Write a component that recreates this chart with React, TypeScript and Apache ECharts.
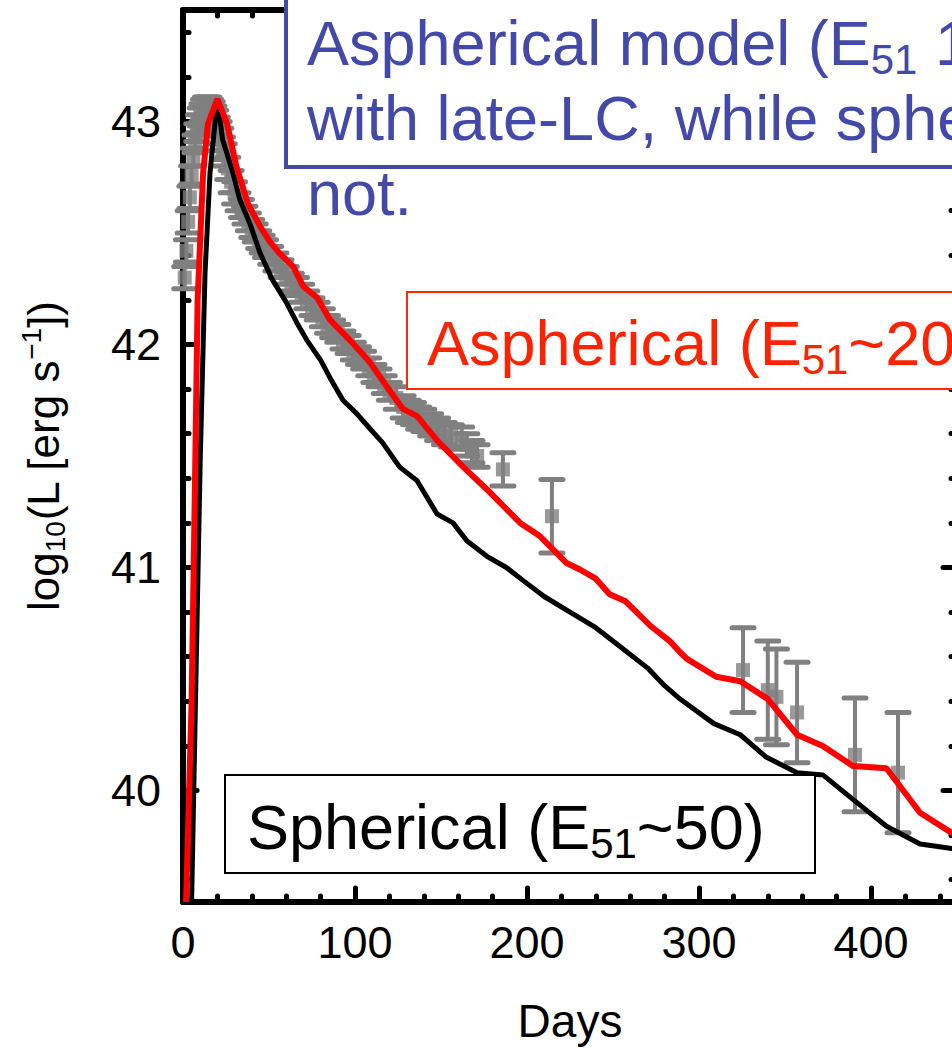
import React, { useEffect, useRef } from 'react';
import * as echarts from 'echarts';

const FONT = '"Liberation Sans", Arial, Helvetica, sans-serif';
const BLUE = '#4349A8';
const RED_TXT = '#FF2200';
const GRAY = '#808080';

// axis ranges / ticks
const xMin = 0;
const xMax = 450;
const xStep = 100;
const yMin = 39.5;
const yMax = 43.5;

// Spherical model (E51 ~ 50), black curve
const sphDays = [5, 7.5, 10, 12.8, 15.7, 20, 23, 29, 33, 39, 44.8, 52, 60, 66, 72, 80, 85.5, 93, 101, 109, 116, 126, 136, 147.7, 157, 165, 176.7, 188, 198, 210, 225, 240, 255, 270, 280, 289, 308.7, 324, 339, 357, 372, 389.5, 409, 428.5, 447, 450];
const sphLum = [39.5, 40.5, 41.48, 42.32, 42.77, 43.1, 42.92, 42.77, 42.65, 42.54, 42.41, 42.29, 42.19, 42.1, 42.02, 41.93, 41.85, 41.75, 41.69, 41.62, 41.56, 41.45, 41.39, 41.24, 41.2, 41.12, 41.05, 41.0, 40.94, 40.87, 40.8, 40.73, 40.64, 40.55, 40.47, 40.41, 40.3, 40.25, 40.15, 40.08, 40.07, 39.96, 39.84, 39.76, 39.74, 39.73];

// Aspherical model (E51 ~ 20), red curve
const aspDays = [1.8, 5, 7, 8.5, 11.7, 14.5, 20, 25.6, 31, 37.8, 44.8, 50.6, 56, 64, 70, 78, 85.5, 97, 108.7, 118.6, 128, 136, 147.7, 163, 176.7, 196, 207.6, 223, 231, 240, 248, 257, 271.5, 283, 289, 293, 310, 324, 340, 357, 372, 389.5, 409, 428.5, 447, 450];
const aspLum = [39.5, 40.4, 41.4, 42.2, 42.77, 42.99, 43.1, 42.99, 42.8, 42.63, 42.53, 42.46, 42.41, 42.35, 42.26, 42.21, 42.11, 42.02, 41.92, 41.81, 41.71, 41.68, 41.57, 41.45, 41.35, 41.2, 41.14, 41.02, 40.99, 40.95, 40.88, 40.85, 40.74, 40.67, 40.62, 40.59, 40.51, 40.49, 40.41, 40.25, 40.2, 40.11, 40.1, 39.9, 39.81, 39.8];

// Observed bolometric light curve (gray points with error bars)
const obsDays = [1, 2, 3, 4, 5, 6, 7, 8, 9, 10, 11, 12, 13, 14, 15, 16, 17, 18, 19, 20, 21, 22, 23, 24, 26, 28, 30, 32, 34, 36, 38, 40, 42, 44, 46, 48, 51, 54, 57, 60, 63, 66, 69, 72, 75, 78, 81, 84, 87, 90, 93, 96, 99, 102, 105, 108, 111, 114, 117, 120, 124, 128, 131, 134, 137, 140, 144, 148, 152, 156, 162, 165, 168, 171, 186, 214.5, 325.6, 340, 345, 357, 390.7, 415.7];
const obsLum = [42.3, 42.42, 42.55, 42.66, 42.76, 42.84, 42.9, 42.95, 42.99, 43.02, 43.04, 43.06, 43.07, 43.07, 43.07, 43.06, 43.05, 43.03, 43.01, 42.98, 42.95, 42.92, 42.88, 42.85, 42.79, 42.73, 42.68, 42.64, 42.61, 42.58, 42.55, 42.52, 42.5, 42.47, 42.45, 42.43, 42.4, 42.37, 42.34, 42.31, 42.28, 42.26, 42.23, 42.2, 42.17, 42.15, 42.12, 42.09, 42.07, 42.05, 42.02, 42.0, 41.97, 41.95, 41.93, 41.9, 41.87, 41.85, 41.82, 41.79, 41.76, 41.72, 41.7, 41.69, 41.67, 41.66, 41.64, 41.62, 41.6, 41.59, 41.58, 41.55, 41.52, 41.5, 41.44, 41.23, 40.54, 40.45, 40.42, 40.35, 40.16, 40.08];
const obsErr = [0.05, 0.05, 0.05, 0.05, 0.04, 0.04, 0.04, 0.04, 0.04, 0.04, 0.04, 0.04, 0.04, 0.04, 0.04, 0.04, 0.04, 0.04, 0.04, 0.04, 0.05, 0.05, 0.05, 0.05, 0.05, 0.05, 0.05, 0.04, 0.04, 0.04, 0.04, 0.04, 0.04, 0.04, 0.04, 0.04, 0.04, 0.04, 0.04, 0.04, 0.04, 0.04, 0.04, 0.04, 0.04, 0.04, 0.04, 0.04, 0.04, 0.04, 0.04, 0.04, 0.04, 0.04, 0.04, 0.04, 0.04, 0.04, 0.04, 0.04, 0.05, 0.05, 0.05, 0.05, 0.05, 0.05, 0.05, 0.05, 0.05, 0.05, 0.05, 0.05, 0.05, 0.05, 0.075, 0.165, 0.19, 0.22, 0.215, 0.225, 0.255, 0.27];

const tickStyle = { color: '#000', width: 5, cap: 'round' };
const lineAxis = { show: true, onZero: false, lineStyle: { color: '#000', width: 6, cap: 'round' } };

function makeX(pos: 'bottom' | 'top', labels: boolean) {
  const ax: any = {
    type: 'value',
    position: pos,
    min: xMin,
    max: xMax,
    interval: xStep,
    axisLine: lineAxis,
    axisTick: { show: true, inside: true, length: 14, lineStyle: tickStyle },
    minorTick: { show: true, splitNumber: 5, length: 6, lineStyle: tickStyle },
    splitLine: { show: false },
    minorSplitLine: { show: false },
    axisLabel: labels
      ? { show: true, fontSize: 45, color: '#000', fontFamily: FONT, margin: 18, showMaxLabel: false }
      : { show: false },
  };
  if (labels) {
    ax.name = 'Days';
    ax.nameLocation = 'middle';
    ax.nameGap = 96;
    ax.nameTextStyle = { fontSize: 46, color: '#000', fontFamily: FONT };
  }
  return ax;
}

function makeY(pos: 'left' | 'right', labels: boolean) {
  const ax: any = {
    type: 'value',
    position: pos,
    min: yMin,
    max: yMax,
    splitNumber: 4,
    axisLine: lineAxis,
    axisTick: { show: true, inside: true, length: 14, lineStyle: tickStyle },
    minorTick: { show: true, splitNumber: 5, length: 6, lineStyle: tickStyle },
    splitLine: { show: false },
    minorSplitLine: { show: false },
    axisLabel: labels
      ? { show: true, fontSize: 45, color: '#000', fontFamily: FONT, margin: 22, showMinLabel: false, showMaxLabel: false }
      : { show: false },
  };
  if (labels) {
    ax.name = 'log{sub|10}(L [erg s{sup|\u22121}])';
    ax.nameLocation = 'middle';
    ax.nameRotate = 90;
    ax.nameGap = 114;
    ax.nameTextStyle = {
      fontSize: 44,
      color: '#000',
      fontFamily: FONT,
      lineHeight: 52,
      rich: {
        sub: { fontSize: 28, fontFamily: FONT, color: '#000', lineHeight: 20, verticalAlign: 'bottom' },
        sup: { fontSize: 28, fontFamily: FONT, color: '#000', lineHeight: 8, verticalAlign: 'top' },
      },
    };
  }
  return ax;
}

export default function App() {
  const ref = useRef<HTMLDivElement>(null);

  useEffect(() => {
    if (!ref.current) return;
    const chart = echarts.init(ref.current, null, { renderer: 'svg' });
    const obs = obsDays.map((d, i) => [d, obsLum[i], obsErr[i]]);
    const sph = sphDays.map((d, i) => [d, sphLum[i]]);
    const asp = aspDays.map((d, i) => [d, aspLum[i]]);

    const subRich = (fill: string) => ({
      s: { fontSize: 42, fontFamily: FONT, fill, lineHeight: 30, verticalAlign: 'bottom' },
    });

    const option: any = {
      animation: false,
      backgroundColor: '#fff',
      grid: { left: 183, top: 10, width: 774, height: 892, outerBoundsMode: 'none', containLabel: false },
      xAxis: [makeX('bottom', true), makeX('top', false)],
      yAxis: [makeY('left', true), makeY('right', false)],
      series: [
        {
          type: 'custom',
          xAxisIndex: 0,
          yAxisIndex: 0,
          z: 2,
          data: obs,
          encode: { x: 0, y: 1 },
          renderItem: (params: any, api: any) => {
            const x = api.value(0);
            const y = api.value(1);
            const e = api.value(2);
            const top = api.coord([x, y + e]);
            const bot = api.coord([x, y - e]);
            const h = 11;
            const st = { stroke: GRAY, lineWidth: 4, lineCap: 'round' };
            return {
              type: 'group',
              children: [
                { type: 'line', shape: { x1: top[0], y1: top[1], x2: bot[0], y2: bot[1] }, style: st },
                { type: 'line', shape: { x1: top[0] - h, y1: top[1], x2: top[0] + h, y2: top[1] }, style: { ...st, lineWidth: 5 } },
                { type: 'line', shape: { x1: bot[0] - h, y1: bot[1], x2: bot[0] + h, y2: bot[1] }, style: { ...st, lineWidth: 5 } },
              ],
            };
          },
        },
        {
          type: 'scatter',
          z: 3,
          data: obs.map((o) => [o[0], o[1]]),
          symbol: 'rect',
          symbolSize: 14,
          itemStyle: { color: GRAY },
        },
        {
          type: 'line',
          z: 4,
          data: sph,
          showSymbol: false,
          clip: true,
          lineStyle: { color: '#000', width: 5 },
        },
        {
          type: 'line',
          z: 5,
          data: asp,
          showSymbol: false,
          clip: true,
          lineStyle: { color: '#FF0000', width: 6 },
        },
      ],
      graphic: [
        {
          type: 'rect',
          z: 100,
          shape: { x: 286, y: -20, width: 760, height: 187 },
          style: { fill: '#fff', stroke: BLUE, lineWidth: 4 },
        },
        {
          type: 'text',
          z: 101,
          x: 307,
          y: 5,
          style: {
            text: 'Aspherical model (E{s|51} 1\nwith late-LC, while sphe\nnot.',
            fontSize: 63,
            fontFamily: FONT,
            lineHeight: 75,
            fill: BLUE,
            align: 'left',
            verticalAlign: 'top',
            rich: subRich(BLUE),
          },
        },
        {
          type: 'rect',
          z: 100,
          shape: { x: 407, y: 292, width: 640, height: 97 },
          style: { fill: '#fff', stroke: '#FF2A00', lineWidth: 2 },
        },
        {
          type: 'text',
          z: 101,
          x: 427,
          y: 343,
          style: {
            text: 'Aspherical (E{s|51}~20',
            fontSize: 63,
            fontFamily: FONT,
            lineHeight: 75,
            fill: RED_TXT,
            align: 'left',
            verticalAlign: 'middle',
            rich: subRich(RED_TXT),
          },
        },
        {
          type: 'rect',
          z: 100,
          shape: { x: 225, y: 775, width: 590, height: 98 },
          style: { fill: '#fff', stroke: '#000', lineWidth: 2 },
        },
        {
          type: 'text',
          z: 101,
          x: 247,
          y: 827,
          style: {
            text: 'Spherical (E{s|51}~50)',
            fontSize: 63,
            fontFamily: FONT,
            lineHeight: 75,
            fill: '#000',
            align: 'left',
            verticalAlign: 'middle',
            rich: subRich('#000'),
          },
        },
      ],
    };
    chart.setOption(option);
    return () => chart.dispose();
  }, []);

  return (
    <div
      style={{
        position: 'fixed',
        left: 0,
        top: 0,
        width: 952,
        height: 1048,
        overflow: 'hidden',
        background: '#fff',
      }}
    >
      <div ref={ref} style={{ width: 1000, height: 1048 }} />
    </div>
  );
}
